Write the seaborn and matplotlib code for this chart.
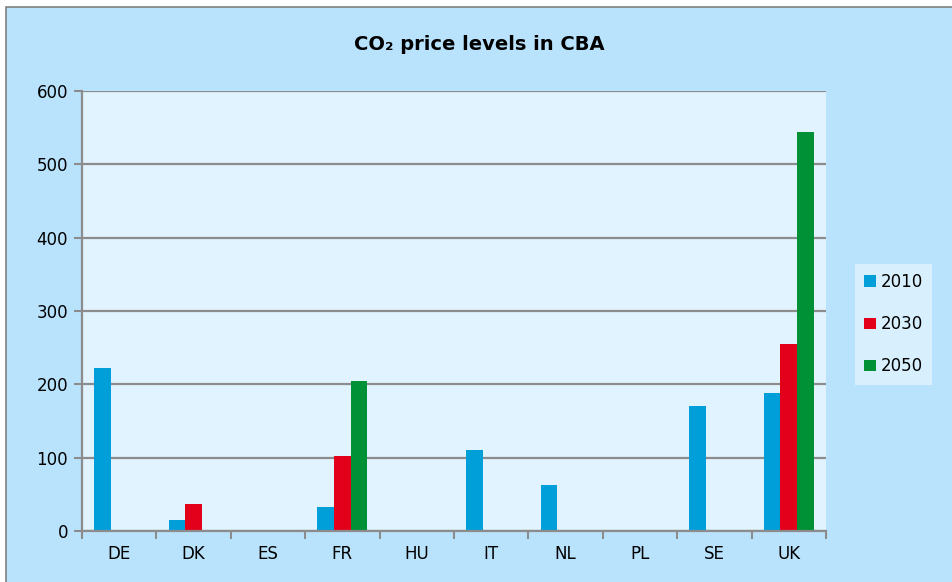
import numpy as np
import pandas as pd
import seaborn as sb
import matplotlib.pyplot as plt
from matplotlib.patches import Rectangle

# Werte
countries = ["DE", "DK", "ES", "FR", "HU", "IT", "NL", "PL", "SE", "UK"]
years = ["2010", "2030", "2050"]
p2010 = [222, 15, 0, 33, 0, 110, 63, 0, 170, 188]
p2030 = [0, 37, 0, 102, 0, 0, 0, 0, 0, 255]
p2050 = [0, 0, 0, 205, 0, 0, 0, 0, 0, 544]
colors = ["#009fda", "#e2001a", "#009036"]

df = pd.DataFrame({
    "country": countries * 3,
    "year": [y for y in years for _ in countries],
    "price": p2010 + p2030 + p2050,
})

sb.set_style("white")
plt.rcParams['font.family'] = ['DejaVu Sans']
plt.rcParams['text.color'] = "black"
plt.rcParams['xtick.color'] = "black"
plt.rcParams['ytick.color'] = "black"

fig = plt.figure(figsize=(9.53, 5.82), dpi=100, facecolor="white")
# aeusserer Rahmen
fig.patches.append(Rectangle((6 / 953, -0.01), 1.0, 1 - 7 / 582 + 0.01,
                             transform=fig.transFigure, facecolor="#b9e3fd",
                             edgecolor="#808080", linewidth=1.2, zorder=-10))

ax = fig.add_axes([82 / 953, 1 - 531 / 582, (826 - 82) / 953, (531 - 91) / 582])
ax.set_facecolor("#e0f3fe")
b = sb.barplot(data=df, x="country", y="price", hue="year", order=countries,
               hue_order=years, palette=colors, width=0.67, saturation=1, ax=ax,
               edgecolor="none", legend=True)

ax.set_ylim(0, 600)
ax.set_xlim(-0.5, len(countries) - 0.5)
ax.set_yticks(np.arange(0, 601, 100))
ax.yaxis.grid(True, color="#8c8c8c", linewidth=1.6)
ax.set_axisbelow(True)
for s in ["top", "right"]:
    ax.spines[s].set_visible(False)
for s in ["left", "bottom"]:
    ax.spines[s].set_color("#8c8c8c")
    ax.spines[s].set_linewidth(1.6)

ax.set_xticks(np.arange(-0.5, len(countries)), minor=True)
ax.tick_params(axis="x", which="both", bottom=True)
ax.tick_params(axis="x", which="major", length=0, labelsize=12, labelcolor="black", pad=10)
ax.tick_params(axis="x", which="minor", length=6, width=1.5, color="#8c8c8c", direction="out")
ax.tick_params(axis="y", left=True, length=6, width=1.5, color="#8c8c8c", direction="out",
               labelsize=12, labelcolor="black", pad=4)
ax.set_xlabel("")
ax.set_ylabel("")

fig.text(0.5 + 0.5 * 6 / 953, 1 - 45 / 582, "CO₂ price levels in CBA", ha="center",
         va="center", fontsize=14, fontweight="bold", color="black")

leg = ax.legend(loc="center left", bbox_to_anchor=(1.028, 0.47), frameon=True,
                fontsize=12, handlelength=0.7, handleheight=0.7, handletextpad=0.3,
                labelspacing=1.45, borderpad=0.55, fancybox=False)
leg.get_frame().set_facecolor("#e0f3fe")
leg.get_frame().set_edgecolor("none")
for t in leg.get_texts():
    t.set_color("black")

fig.savefig("out.png", dpi=100, facecolor=fig.get_facecolor())
